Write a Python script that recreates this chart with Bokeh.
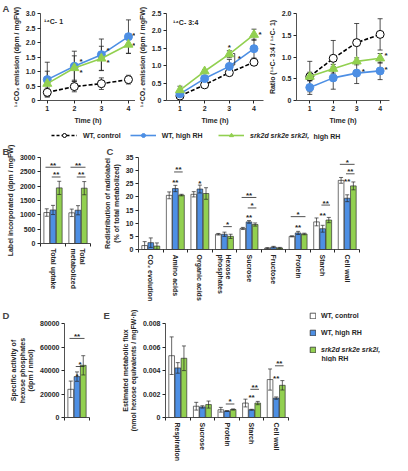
import numpy as np
from bokeh.plotting import figure
from bokeh.models import (ColumnDataSource, Whisker, TeeHead, FixedTicker, Range1d,
                          Legend, LegendItem, Label, NumeralTickFormatter)
from bokeh.layouts import row, column
from bokeh.embed import file_html
from bokeh.resources import INLINE
from bokeh.core.properties import value

# ---------------- data ----------------
time_h = [1, 2, 3, 4]
groups = ["WT, control", "WT, high RH", "srk2d srk2e srk2i, high RH"]

# A (left): 14C-1
c1_ctrl = [0.28, 0.48, 0.58, 0.72]
c1_ctrl_err = [0.15, 0.18, 0.20, 0.15]
c1_wt = [0.72, 1.18, 1.58, 2.20]
c1_wt_err = [0.60, 0.52, 0.54, 0.58]
c1_srk = [0.58, 1.12, 1.45, 1.93]
c1_srk_err = [0.43, 0.42, 0.42, 0.30]
c1_star_x = [2.25, 2.25, 3.25, 3.25, 4.2, 4.2]
c1_star_y = [1.41, 1.05, 1.80, 1.38, 2.30, 1.97]

# A (middle): 14C-3:4
c34_ctrl = [0.13, 0.45, 0.80, 1.10]
c34_ctrl_err = [0.04, 0.04, 0.05, 0.05]
c34_wt = [0.19, 0.63, 0.98, 1.49]
c34_wt_err = [0.08, 0.07, 0.20, 0.27]
c34_srk = [0.30, 0.84, 1.33, 1.89]
c34_srk_err = [0.11, 0.05, 0.10, 0.16]
c34_star_x = [3.0, 3.4, 4.25]
c34_star_y = [1.58, 1.26, 1.95]
c34_bracket = [3.22, 1.02, 1.35]

# A (right): ratio
ratio_ctrl = [0.55, 0.97, 1.33, 1.52]
ratio_ctrl_err = [0.35, 0.41, 0.44, 0.36]
ratio_wt = [0.30, 0.52, 0.63, 0.68]
ratio_wt_err = [0.16, 0.26, 0.24, 0.20]
ratio_srk = [0.55, 0.73, 0.90, 0.97]
ratio_srk_err = [0.10, 0.10, 0.08, 0.11]
ratio_star_x = [3.28, 4.25, 4.25]
ratio_star_y = [0.71, 1.08, 0.76]

# B
b_cats = ["Total uptake", "Total\nmetabolized"]
b_ctrl = [1080, 1070]
b_ctrl_err = [130, 130]
b_wt = [1170, 1160]
b_wt_err = [160, 160]
b_srk = [1940, 1930]
b_srk_err = [230, 230]
b_brackets = [(0, 0, 2, 2660, "**"), (0, 1, 2, 2320, "**"),
              (1, 0, 2, 2660, "**"), (1, 1, 2, 2320, "**")]
b_stars = []

# C
c_cats = ["CO₂ evolution", "Amino acids", "Organic acids", "Hexose\nphosphates",
          "Sucrose", "Fructose", "Protein", "Starch", "Cell wall"]
c_ctrl = [1.5, 20.6, 21.0, 5.8, 8.0, 0.5, 5.0, 10.5, 26.3]
c_ctrl_err = [1.5, 1.3, 1.0, 0.3, 0.4, 0.2, 0.2, 1.5, 1.1]
c_wt = [2.6, 23.2, 23.0, 5.8, 10.5, 0.9, 6.3, 7.9, 19.5]
c_wt_err = [1.8, 1.2, 1.5, 0.8, 0.5, 0.3, 0.6, 1.3, 1.3]
c_srk = [1.3, 20.7, 21.3, 5.0, 9.5, 0.6, 5.9, 11.2, 24.2]
c_srk_err = [1.2, 0.3, 2.2, 0.8, 0.6, 0.2, 0.3, 1.0, 1.5]
c_brackets = [(1, 1, 2, 29.5, "**"), (3, 1, 2, 8.7, "*"), (4, 0, 2, 19.8, "**"),
              (4, 1, 2, 15.8, "*"), (6, 0, 2, 12.5, "*"), (7, 1, 2, 16.9, "**"),
              (8, 0, 2, 32.4, "*"), (8, 1, 2, 28.8, "**")]
c_stars = [(1, 1, 26.3, "**"), (2, 1, 26.0, "*"), (4, 1, 13.0, "**"),
           (6, 1, 9.2, "**"), (7, 1, 13.6, "**"), (8, 1, 26.5, "**")]

# D
d_ctrl = [24000]
d_ctrl_err = [7000]
d_wt = [34800]
d_wt_err = [4000]
d_srk = [44400]
d_srk_err = [8200]
d_brackets = [(0, 0, 2, 67300, "**"), (0, 1, 2, 43400, "*")]
d_stars = [(0, 1, 37000, "*")]

# E
e_cats = ["Respiration", "Sucrose", "Protein", "Starch", "Cell wall"]
e_ctrl = [0.00526, 0.00096, 0.00066, 0.00123, 0.00323]
e_ctrl_err = [0.0016, 0.00033, 0.0002, 0.00033, 0.0009]
e_wt = [0.00422, 0.0009, 0.00055, 0.00066, 0.00165]
e_wt_err = [0.00045, 0.0001, 0.00003, 0.00004, 0.0001]
e_srk = [0.00504, 0.0011, 0.00068, 0.00123, 0.00274]
e_srk_err = [0.00105, 0.0003, 0.00005, 0.00014, 0.0004]
e_brackets = [(2, 1, 2, 0.00115, "*"), (3, 1, 2, 0.0024, "**"), (4, 1, 2, 0.0044, "**")]
e_stars = [(3, 1, 0.00185, "**"), (4, 1, 0.0035, "**")]

# ---------------- style ----------------
FONT = "Liberation Sans"
TICK_FS = "7px"
LAB_FS = "7px"
BLUE = "#4d8fe4"
GREEN = "#92d050"
DARK = "#262626"
COLORS = ["white", BLUE, GREEN]
OFF = [-0.25, 0.0, 0.25]
BW = 0.23

W_TOT, H_TOT = 392, 455


def X(v):
    return int(round(v * W_TOT / 408.0))


def Y(v):
    return int(round(v * H_TOT / 471.0))


def make_fig(bx, fx, by, fy, xr, yr, letter=None, lx=0, st=0, axes=True):
    kw = dict(
        frame_width=X(fx[1]) - X(fx[0]),
        frame_height=Y(fy[1]) - Y(fy[0]),
        min_border_left=X(fx[0]) - X(bx[0]),
        min_border_right=X(bx[1]) - X(fx[1]),
        min_border_top=Y(fy[0]) - Y(by[0]),
        min_border_bottom=Y(by[1]) - Y(fy[1]),
        x_range=Range1d(*xr), y_range=Range1d(*yr),
        output_backend="svg", toolbar_location=None,
        background_fill_color="white", border_fill_color="white",
        outline_line_color=None,
    )
    if not axes:
        kw.update(x_axis_location=None, y_axis_location=None)
    p = figure(title=letter, **kw)
    if letter:
        p.title.text_font = FONT
        p.title.text_font_size = "9.5px"
        p.title.text_font_style = "bold"
        p.title.align = "left"
        p.title.offset = X(lx) - X(fx[0])
        p.title.standoff = st
    p.grid.visible = False
    for ax in p.axis:
        ax.axis_line_color = DARK
        ax.axis_line_width = 0.8
        ax.major_tick_line_color = DARK
        ax.minor_tick_line_color = DARK
        ax.major_tick_out = 3
        ax.major_tick_in = 0
        ax.minor_tick_out = 0
        ax.minor_tick_in = 0
        ax.major_label_text_font = FONT
        ax.major_label_text_font_size = TICK_FS
        ax.major_label_text_font_style = "bold"
        ax.major_label_text_color = DARK
        ax.axis_label_text_font = FONT
        ax.axis_label_text_font_size = LAB_FS
        ax.axis_label_text_font_style = "bold"
        ax.axis_label_text_color = DARK
        ax.axis_label_standoff = 3
        ax.major_label_standoff = 2
    return p


def add_stars(p, xs, ys, texts, yoff=0):
    p.text(x=xs, y=ys, text=texts, text_font=value(FONT), text_font_size="8px",
           text_font_style="bold", text_align="center", text_baseline="middle",
           text_color=DARK, y_offset=yoff)


def line_panel(p, series, sx, sy, ylabel, yticks, inner=None):
    srcs = []
    for vals, errs, color, marker, dash, fill, size in series:
        src = ColumnDataSource(dict(t=time_h, v=vals,
                                    lo=[v - e for v, e in zip(vals, errs)],
                                    hi=[v + e for v, e in zip(vals, errs)]))
        srcs.append(src)
        p.add_layout(Whisker(source=src, base="t", lower="lo", upper="hi", level="underlay",
                             line_color=DARK, line_width=0.8,
                             upper_head=TeeHead(size=5, line_color=DARK, line_width=0.8),
                             lower_head=TeeHead(size=5, line_color=DARK, line_width=0.8)))
    for src, (vals, errs, color, marker, dash, fill, size) in zip(srcs, series):
        p.line("t", "v", source=src, line_color=color, line_width=1.6, line_dash=dash)
        p.scatter("t", "v", source=src, marker=marker, size=size, fill_color=fill,
                  line_color=color, line_width=1.0)
    add_stars(p, sx, sy, ["*"] * len(sx), yoff=2)
    p.xaxis.ticker = FixedTicker(ticks=time_h)
    p.xaxis.axis_label = "Time (h)"
    p.yaxis.ticker = FixedTicker(ticks=yticks)
    p.yaxis.formatter = NumeralTickFormatter(format="0.0")
    p.yaxis.major_label_overrides = {0: "0"}
    p.yaxis.axis_label = ylabel
    if inner:
        p.add_layout(Label(x=inner[0], y=inner[1], text=inner[2], text_font=FONT,
                           text_font_size="7px", text_font_style="bold",
                           text_baseline="middle", text_color=DARK))


def series_of(ctrl, ctrl_e, wt, wt_e, srk, srk_e):
    return [(ctrl, ctrl_e, "black", "circle", "4 2", "white", 8),
            (wt, wt_e, BLUE, "circle", "solid", BLUE, 8),
            (srk, srk_e, GREEN, "triangle", "solid", GREEN, 9)]


def bar_panel(p, cats, vals, errs, brackets, stars, ylabel, yticks):
    n = len(vals[0])
    for g in range(3):
        xs = [i + 1 + OFF[g] for i in range(n)]
        src = ColumnDataSource(dict(x=xs, top=vals[g],
                                    lo=[max(v - e, 0) for v, e in zip(vals[g], errs[g])],
                                    hi=[v + e for v, e in zip(vals[g], errs[g])]))
        p.vbar(x="x", top="top", bottom=0, width=BW, source=src,
               fill_color=COLORS[g], line_color="#333333", line_width=0.7)
        p.add_layout(Whisker(source=src, base="x", lower="lo", upper="hi", level="annotation",
                             line_color=DARK, line_width=0.7,
                             upper_head=TeeHead(size=4, line_color=DARK, line_width=0.7),
                             lower_head=TeeHead(size=4, line_color=DARK, line_width=0.7)))
    if brackets:
        x0 = [c + 1 + OFF[a] - 0.05 for (c, a, b, y, t) in brackets]
        x1 = [c + 1 + OFF[b] + 0.05 for (c, a, b, y, t) in brackets]
        ys = [y for (c, a, b, y, t) in brackets]
        p.segment(x0=x0, y0=ys, x1=x1, y1=ys, line_color=DARK, line_width=0.8)
        xm = [c + 1 + (OFF[a] + OFF[b]) / 2 for (c, a, b, y, t) in brackets]
        add_stars(p, xm, ys, [t for (c, a, b, y, t) in brackets], yoff=-2)
    if stars:
        add_stars(p, [c + 1 + OFF[g] for (c, g, y, t) in stars], [y for (c, g, y, t) in stars],
                  [t for (c, g, y, t) in stars], yoff=2)
    p.xaxis.ticker = FixedTicker(ticks=list(range(1, n + 1)),
                                 minor_ticks=[i + 0.5 for i in range(n + 1)])
    p.xaxis.major_tick_out = 0
    p.xaxis.minor_tick_out = 3
    p.xaxis.major_label_overrides = {i + 1: c for i, c in enumerate(cats)}
    p.xaxis.major_label_orientation = "vertical"
    p.yaxis.ticker = FixedTicker(ticks=yticks)
    p.yaxis.axis_label = ylabel


def leg_common(lg, italic=False):
    lg.padding = 0
    lg.margin = 0
    lg.border_line_color = None
    lg.background_fill_alpha = 0
    lg.label_text_font = FONT
    lg.label_text_font_size = "7px"
    lg.label_text_font_style = "bold italic" if italic else "bold"
    lg.label_text_color = DARK
    lg.label_height = 9
    lg.label_standoff = 6


srk_it, srk_rest = groups[2].split(", ")
srk_it = srk_it + ","
nan_src = ColumnDataSource(dict(x=[np.nan], y=[np.nan]))

# ---------------- panel A ----------------
a1 = make_fig((0, 140), (42, 140), (0, 131), (12.7, 102.3), (0.75, 4.26), (0, 3.0),
              letter="A", lx=2, st=0)
line_panel(a1, series_of(c1_ctrl, c1_ctrl_err, c1_wt, c1_wt_err, c1_srk, c1_srk_err),
           c1_star_x, c1_star_y, "¹⁴CO₂ emission (dpm / mgFW)",
           [0, 0.5, 1.0, 1.5, 2.0, 2.5, 3.0], inner=(0.88, 2.74, "¹⁴C- 1"))

a2 = make_fig((140, 275), (172, 273), (0, 131), (12.7, 102.3), (0.455, 4.385), (0, 2.5))
line_panel(a2, series_of(c34_ctrl, c34_ctrl_err, c34_wt, c34_wt_err, c34_srk, c34_srk_err),
           c34_star_x, c34_star_y, "¹⁴CO₂ emission (dpm / mgFW)",
           [0, 0.5, 1.0, 1.5, 2.0, 2.5], inner=(0.72, 2.24, "¹⁴C- 3:4"))
bx_, by0, by1 = c34_bracket
a2.segment(x0=[bx_, bx_ - 0.07, bx_ - 0.07], y0=[by0, by0, by1],
           x1=[bx_, bx_, bx_], y1=[by1, by0, by1], line_color=DARK, line_width=0.8)

a3 = make_fig((275, 408), (307, 404), (0, 131), (12.7, 102.3), (0.433, 4.40), (0, 2.0))
line_panel(a3, series_of(ratio_ctrl, ratio_ctrl_err, ratio_wt, ratio_wt_err, ratio_srk, ratio_srk_err),
           ratio_star_x, ratio_star_y, "Ratio (¹⁴C- 3:4 / ¹⁴C- 1)",
           [0, 0.5, 1.0, 1.5, 2.0])

# ---------------- top legend ----------------
lw_, lh_ = X(408), Y(146) - Y(131)
lega = make_fig((0, 408), (0, 408), (131, 146), (131, 146), (0, lw_), (0, lh_), axes=False)
r_cl = lega.line("x", "y", source=nan_src, line_color="black", line_dash="3 2", line_width=1.6)
r_cm = lega.scatter("x", "y", source=nan_src, marker="circle", size=8, fill_color="white",
                    line_color="black")
r_wl = lega.line("x", "y", source=nan_src, line_color=BLUE, line_width=1.6)
r_wm = lega.scatter("x", "y", source=nan_src, marker="circle", size=8, fill_color=BLUE,
                    line_color=BLUE)
r_sl = lega.line("x", "y", source=nan_src, line_color=GREEN, line_width=1.6)
r_sm = lega.scatter("x", "y", source=nan_src, marker="triangle", size=9, fill_color=GREEN,
                    line_color=GREEN)

lg1 = Legend(items=[LegendItem(label=groups[0], renderers=[r_cl, r_cm]),
                    LegendItem(label=groups[1], renderers=[r_wl, r_wm])],
             orientation="horizontal", location=(X(53), 2))
leg_common(lg1)
lg1.glyph_width = X(27)
lg1.glyph_height = 10
lg1.spacing = 9
lega.add_layout(lg1)
lg2 = Legend(items=[LegendItem(label=srk_it, renderers=[r_sl, r_sm])],
             orientation="horizontal", location=(X(227), 2))
leg_common(lg2, italic=True)
lg2.glyph_width = X(27)
lg2.glyph_height = 10
lega.add_layout(lg2)
lega.add_layout(Label(x=X(326), y=lh_ / 2 - 0.5, text=srk_rest, text_font=FONT,
                      text_font_size="7px", text_font_style="bold", text_baseline="middle",
                      text_color=DARK))

# ---------------- B, C ----------------
pb = make_fig((0, 105), (42, 94), (146, 308), (160, 249), (0.5, 2.5), (0, 3000),
              letter="B", lx=2, st=2)
bar_panel(pb, b_cats, [b_ctrl, b_wt, b_srk], [b_ctrl_err, b_wt_err, b_srk_err],
          b_brackets, b_stars, "Label incorporated (dpm / mgFW)",
          [0, 500, 1000, 1500, 2000, 2500, 3000])

pc = make_fig((105, 408), (143, 373), (146, 308), (161, 257), (0.5, 9.5), (0, 35),
              letter="C", lx=109, st=2)
bar_panel(pc, c_cats, [c_ctrl, c_wt, c_srk], [c_ctrl_err, c_wt_err, c_srk_err],
          c_brackets, c_stars, "Redistribution of radiolabel\n(% of total metabolized)",
          [0, 5, 10, 15, 20, 25, 30, 35])

# ---------------- D, E ----------------
pd_ = make_fig((0, 105), (67, 93), (308, 471), (326, 423), (0.5, 1.5), (0, 80000),
               letter="D", lx=2, st=6)
bar_panel(pd_, [""], [d_ctrl, d_wt, d_srk], [d_ctrl_err, d_wt_err, d_srk_err],
          d_brackets, d_stars, "Specific activity of\nhexose phosphates\n(dpm / nmol)",
          [0, 20000, 40000, 60000, 80000])

pe = make_fig((105, 315), (172, 300), (308, 471), (326, 423), (0.5, 5.5), (0, 0.008),
              letter="E", lx=107, st=6)
bar_panel(pe, e_cats, [e_ctrl, e_wt, e_srk], [e_ctrl_err, e_wt_err, e_srk_err],
          e_brackets, e_stars,
          "Estimated metabolic flux\n(nmol hexose equivalents / mgFW·h)",
          [0, 0.002, 0.004, 0.006, 0.008])
pe.yaxis.formatter = NumeralTickFormatter(format="0.000")
pe.yaxis.major_label_overrides = {0: "0"}

# ---------------- E legend (own figure, legend inside its frame) ----------------
LF = (315.5, 368.0)
lfw = X(408) - X(322)
lfh = Y(LF[1]) - Y(LF[0])
lege = make_fig((315, 408), (322, 408), (308, 471), LF, (0, lfw), (0, lfh), axes=False)
rb = [lege.vbar(x="x", top="y", width=1, source=nan_src, fill_color=c,
                line_color="#333333", line_width=0.8) for c in COLORS]
lg3 = Legend(items=[LegendItem(label=groups[0], renderers=[rb[0]]),
                    LegendItem(label=groups[1], renderers=[rb[1]])],
             orientation="vertical", location="top_left")
leg_common(lg3)
lg3.glyph_width = 7
lg3.glyph_height = 7
lg3.spacing = 8
lg3.label_standoff = 5
lege.add_layout(lg3)
lg4 = Legend(items=[LegendItem(label=srk_it, renderers=[rb[2]])],
             orientation="vertical",
             location=(0, lfh - (Y(355) - Y(LF[0])) - 4.5))
leg_common(lg4, italic=True)
lg4.glyph_width = 7
lg4.glyph_height = 7
lg4.label_standoff = 5
lege.add_layout(lg4)
lege.add_layout(Label(x=12, y=lfh - (Y(364) - Y(LF[0])), text=srk_rest, text_font=FONT,
                      text_font_size="7px", text_font_style="bold", text_baseline="middle",
                      text_color=DARK))

layout = column(row(a1, a2, a3), lega,
                row(column(pb), column(pc)),
                row(column(pd_), column(pe), column(lege)))
open("out.html", "w").write(file_html(layout, INLINE))
